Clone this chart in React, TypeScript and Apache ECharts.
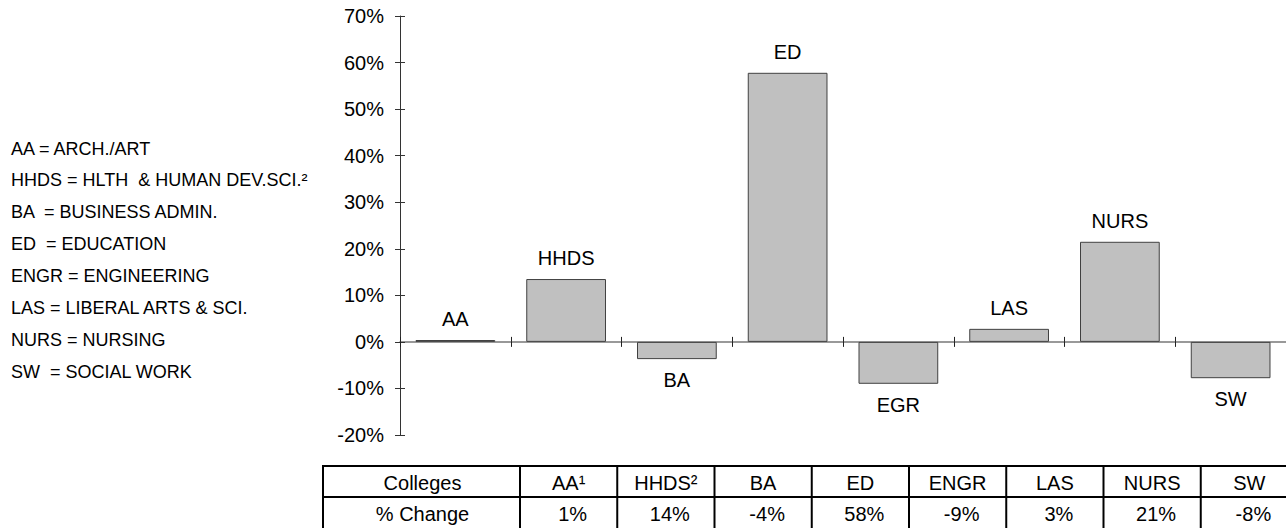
import React, { useEffect, useRef } from "react";
import * as echarts from "echarts";

const categories = ["AA", "HHDS", "BA", "ED", "ENGR", "LAS", "NURS", "SW"];
const barLabels = ["AA", "HHDS", "BA", "ED", "EGR", "LAS", "NURS", "SW"];
const changeValues = [0.4, 13.5, -3.7, 57.8, -9.0, 2.8, 21.5, -7.8];
const tableHeaders = ["AA¹", "HHDS²", "BA", "ED", "ENGR", "LAS", "NURS", "SW"];
const tableValues = ["1%", "14%", "-4%", "58%", "-9%", "3%", "21%", "-8%"];
const tableRowTitles = ["Colleges", "% Change"];
const legendLines = [
  "AA = ARCH./ART",
  "HHDS = HLTH  & HUMAN DEV.SCI.²",
  "BA  = BUSINESS ADMIN.",
  "ED  = EDUCATION",
  "ENGR = ENGINEERING",
  "LAS = LIBERAL ARTS & SCI.",
  "NURS = NURSING",
  "SW  = SOCIAL WORK",
];
const yMin = -20;
const yMax = 70;
const yInterval = 10;

const FONT = "'Liberation Sans', Arial, sans-serif";
const FS = 20;

export default function App() {
  const ref = useRef<HTMLDivElement>(null);

  useEffect(() => {
    if (!ref.current) return;
    const chart = echarts.init(ref.current, undefined, { renderer: "svg" });

    // table layout
    const tLeft = 323;
    const firstColW = 197;
    const colW = 97.25;
    const tTop = 466;
    const rowH = 31;
    const graphics: any[] = [];
    const colEdges: number[] = [tLeft, tLeft + firstColW];
    for (let i = 1; i <= categories.length; i++) colEdges.push(tLeft + firstColW + i * colW);
    const tRight = colEdges[colEdges.length - 1];
    for (let r = 0; r <= 2; r++) {
      graphics.push({
        type: "line",
        shape: { x1: tLeft - 1, y1: tTop + r * rowH + (r === 2 ? 1 : 0), x2: tRight, y2: tTop + r * rowH + (r === 2 ? 1 : 0) },
        style: { stroke: "#000", lineWidth: 2 },
      });
    }
    colEdges.forEach((x) => {
      graphics.push({
        type: "line",
        shape: { x1: x, y1: tTop, x2: x, y2: tTop + 2 * rowH + 2 },
        style: { stroke: "#000", lineWidth: 2 },
      });
    });
    tableRowTitles.forEach((t, r) => {
      graphics.push({
        type: "text",
        x: tLeft + firstColW / 2 + 1,
        y: tTop + r * rowH + rowH / 2 + 1,
        style: { text: t, fontSize: FS, fontFamily: FONT, fill: "#000", align: "center", verticalAlign: "middle" },
      });
    });
    categories.forEach((_, i) => {
      const cx = tLeft + firstColW + i * colW + colW / 2;
      graphics.push({
        type: "text",
        x: cx,
        y: tTop + rowH / 2 + 1,
        style: { text: tableHeaders[i], fontSize: FS, fontFamily: FONT, fill: "#000", align: "center", verticalAlign: "middle" },
      });
      graphics.push({
        type: "text",
        x: cx + 4,
        y: tTop + rowH + rowH / 2 + 1,
        style: { text: tableValues[i], fontSize: FS, fontFamily: FONT, fill: "#000", align: "center", verticalAlign: "middle" },
      });
    });
    legendLines.forEach((t, i) => {
      graphics.push({
        type: "text",
        x: 11,
        y: 148.5 + i * 31.9,
        style: { text: t, fontSize: 18, fontFamily: FONT, fill: "#000", align: "left", verticalAlign: "middle" },
      });
    });

    chart.setOption({
      animation: false,
      backgroundColor: "#fff",
      grid: { left: 400, top: 16, width: 890, height: 419, containLabel: false },
      xAxis: [
        {
          type: "category",
          data: categories,
          position: "bottom",
          axisLine: { onZero: true, lineStyle: { color: "#777", width: 1.5 } },
          axisTick: { show: true, interval: 0, length: 5, lineStyle: { color: "#222" } },
          axisLabel: { show: false },
        },
        {
          type: "category",
          data: categories,
          position: "bottom",
          axisLine: { show: false, onZero: true },
          axisTick: { show: true, inside: true, interval: 0, length: 5, lineStyle: { color: "#222" } },
          axisLabel: { show: false },
        },
      ],
      yAxis: [
        {
          type: "value",
          min: yMin,
          max: yMax,
          interval: yInterval,
          position: "left",
          axisLine: { show: true, onZero: false, lineStyle: { color: "#333" } },
          axisTick: { show: true, length: 5, lineStyle: { color: "#333" } },
          splitLine: { show: false },
          axisLabel: { formatter: "{value}%", fontSize: FS, fontFamily: FONT, color: "#000", margin: 16 },
        },
        {
          type: "value",
          min: yMin,
          max: yMax,
          interval: yInterval,
          position: "left",
          offset: 0,
          axisLine: { show: false, onZero: false },
          axisTick: { show: true, inside: true, length: 5, lineStyle: { color: "#333" } },
          splitLine: { show: false },
          axisLabel: { show: false },
        },
      ],
      series: [
        {
          type: "bar",
          xAxisIndex: 0,
          yAxisIndex: 0,
          barCategoryGap: "28%",
          data: changeValues.map((v, i) => ({
            value: v,
            label: {
              show: true,
              position: v >= 0 ? "top" : "bottom",
              distance: 11,
              formatter: () => barLabels[i],
              fontSize: FS,
              fontFamily: FONT,
              color: "#000",
            },
          })),
          itemStyle: { color: "#c0c0c0", borderColor: "#404040", borderWidth: 1 },
        },
      ],
      graphic: graphics,
    });
    return () => chart.dispose();
  }, []);

  return (
    <div
      ref={ref}
      style={{ position: "absolute", left: 0, top: 0, width: 1286, height: 528, background: "#fff" }}
    />
  );
}
